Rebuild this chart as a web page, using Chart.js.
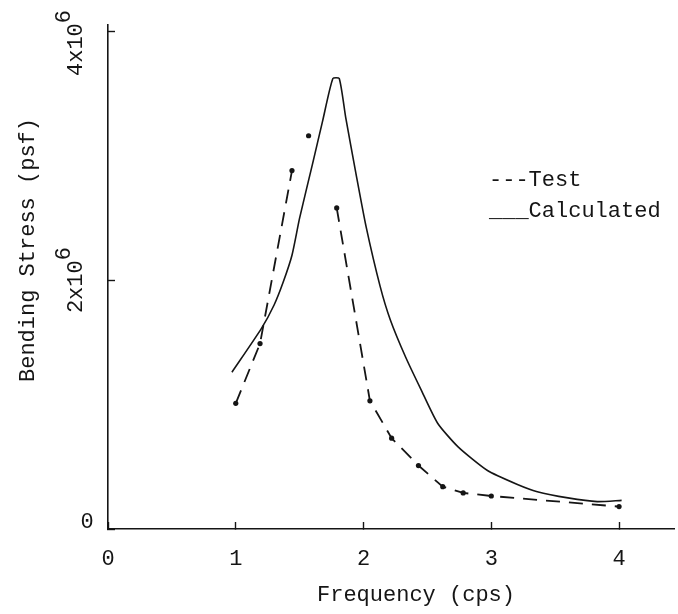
<!DOCTYPE html>
<html>
<head>
<meta charset="utf-8">
<script src="https://cdn.jsdelivr.net/npm/chart.js@4"></script>
<style>
  html, body { margin: 0; padding: 0; background: #fff; }
  #chart { display: block; }
</style>
</head>
<body>
<canvas id="chart" width="678" height="614"></canvas>
<script>
// values (frequency in cps, stress in psf)
const calcFreq = [0.97, 1.2, 1.3, 1.37, 1.44, 1.5, 1.6, 1.68, 1.76, 1.81, 1.86, 1.94, 2.02, 2.13, 2.21, 2.33, 2.45, 2.58, 2.74, 2.97, 3.2, 3.36, 3.6, 3.83, 4.02];
const calcStress = [1.26e6, 1.61e6, 1.8e6, 1.98e6, 2.2e6, 2.5e6, 2.93e6, 3.28e6, 3.62e6, 3.62e6, 3.31e6, 2.86e6, 2.43e6, 1.95e6, 1.68e6, 1.38e6, 1.12e6, 0.85e6, 0.66e6, 0.47e6, 0.36e6, 0.3e6, 0.25e6, 0.22e6, 0.23e6];

const testFreq = [1.0, 1.19, 1.44, 1.57, 1.79, 2.05, 2.22, 2.43, 2.62, 2.78, 3.0, 4.0];
const testStress = [1.01e6, 1.49e6, 2.88e6, 3.16e6, 2.58e6, 1.03e6, 0.73e6, 0.51e6, 0.34e6, 0.29e6, 0.265e6, 0.18e6];
// test points that are not joined to the next one in the original
const testBreaksAfter = [1.44, 1.57];

const xTicks = [0, 1, 2, 3, 4];
const yTicks = [0, 2e6, 4e6];
const xLabel = 'Frequency (cps)';
const yLabel = 'Bending Stress (psf)';
const seriesNames = ['Test', 'Calculated'];
const legendMarks = ['---', '___'];

const FONT = '22px "Liberation Mono", "DejaVu Sans Mono", monospace';
const INK = '#151515';

function toPoints(xs, ys) {
    return xs.map((x, i) => ({ x: x, y: ys[i] }));
}

// axis titles, rotated y tick labels with exponent, and the typed legend
const paperText = {
    id: 'paperText',
    afterDraw(chart) {
        const ctx = chart.ctx;
        const yScale = chart.scales.y;
        ctx.save();
        ctx.fillStyle = INK;
        ctx.font = FONT;
        ctx.textBaseline = 'middle';
        ctx.textAlign = 'center';

        yTicks.forEach(v => {
            const py = yScale.getPixelForValue(v);
            if (v === 0) {
                ctx.fillText('0', 87, py - 7);
                return;
            }
            const exp = Math.floor(Math.log10(v));
            const base = (v / Math.pow(10, exp)) + 'x10';
            const sup = String(exp);
            const wb = ctx.measureText(base).width;
            const total = wb + ctx.measureText(sup).width;
            const cy = Math.max(py, total / 2 + 10);
            ctx.save();
            ctx.translate(76, cy);
            ctx.rotate(-Math.PI / 2);
            ctx.textAlign = 'left';
            ctx.fillText(base, -total / 2, 0);
            ctx.fillText(sup, -total / 2 + wb, -12);
            ctx.restore();
        });

        ctx.save();
        ctx.translate(28, 250);
        ctx.rotate(-Math.PI / 2);
        ctx.fillText(yLabel, 0, 0);
        ctx.restore();

        ctx.fillText(xLabel, 416, 595);

        ctx.textAlign = 'left';
        chart.data.datasets.forEach((ds, i) => {
            ctx.fillText(legendMarks[i] + ds.label, 489, 180 + i * 31);
        });
        ctx.restore();
    }
};

new Chart(document.getElementById('chart'), {
    type: 'scatter',
    data: {
        datasets: [{
            label: seriesNames[0],
            data: toPoints(testFreq, testStress),
            showLine: true,
            borderColor: INK,
            backgroundColor: INK,
            borderWidth: 1.8,
            borderDash: [14, 9],
            pointRadius: 2.6,
            pointBorderWidth: 0,
            tension: 0,
            segment: {
                borderColor: c => testBreaksAfter.includes(c.p0.parsed.x) ? 'rgba(0,0,0,0)' : undefined
            }
        }, {
            label: seriesNames[1],
            data: toPoints(calcFreq, calcStress),
            showLine: true,
            borderColor: INK,
            borderWidth: 1.6,
            pointRadius: 0,
            tension: 0.2
        }]
    },
    options: {
        responsive: false,
        animation: false,
        layout: { padding: { top: 25, right: 0, left: 0, bottom: 0 } },
        plugins: {
            legend: { display: false },
            tooltip: { enabled: false }
        },
        scales: {
            x: {
                type: 'linear',
                min: 0,
                max: 4.43,
                afterBuildTicks: s => { s.ticks = xTicks.map(v => ({ value: v })); },
                afterFit: s => { s.height = 85; },
                border: { display: true, color: INK, width: 1.6 },
                grid: { drawOnChartArea: false, drawTicks: true, tickLength: -7, tickColor: INK, tickWidth: 1.4 },
                ticks: { color: INK, font: { family: '"Liberation Mono", monospace', size: 22 }, padding: 24 }
            },
            y: {
                type: 'linear',
                min: 0,
                max: 4.05e6,
                afterBuildTicks: s => { s.ticks = yTicks.map(v => ({ value: v })); },
                afterFit: s => { s.width = 108; },
                border: { display: true, color: INK, width: 1.6 },
                grid: { drawOnChartArea: false, drawTicks: true, tickLength: -7, tickColor: INK, tickWidth: 1.4 },
                ticks: { display: false }
            }
        }
    },
    plugins: [paperText]
});
</script>
</body>
</html>
